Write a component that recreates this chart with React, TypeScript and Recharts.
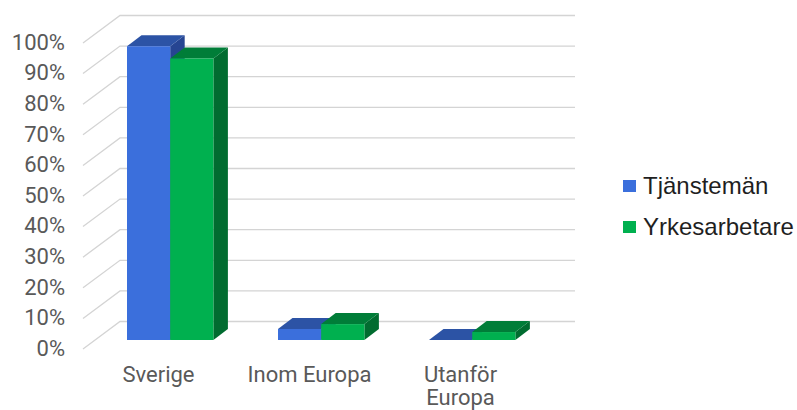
import { BarChart, Bar, XAxis, YAxis, CartesianGrid, Legend } from 'recharts';

const categories = ['Sverige', 'Inom Europa', 'Utanför Europa'];
const tjanstemanValues = [96, 3.6, 0];
const yrkesarbetareValues = [92, 5.2, 2.6];
const yTicks = [0, 10, 20, 30, 40, 50, 60, 70, 80, 90, 100];

const chartData = categories.map((name, i) => ({
  name,
  tjansteman: tjanstemanValues[i],
  yrkesarbetare: yrkesarbetareValues[i]
}));

const BLUE = { front: '#3b6fdc', top: '#2c53a5', side: '#264592' };
const GREEN = { front: '#00b04f', top: '#007d38', side: '#016c30' };

// floor depth of the 3D box, and how far the bars sit inside it
const WALL_DX = 37;
const WALL_DY = 27.5;
const WALL_END_EXTRA = 2;
const BAR_SHIFT_X = 12;
const BAR_SHIFT_Y = 9;
const BAR_DX = 14.5;
const BAR_DY = 11;

const MAX_LABEL_CHARS = 12;

const pts = (list: number[][]) => list.map(p => p.join(',')).join(' ');

const Box = ({ x, y, width, height, colors }: any) => {
  const left = x + BAR_SHIFT_X;
  const right = left + width;
  const top = y - BAR_SHIFT_Y;
  const bottom = top + height;
  return (
    <g>
      <polygon
        fill={colors.side}
        points={pts([[right, top], [right + BAR_DX, top - BAR_DY], [right + BAR_DX, bottom - BAR_DY], [right, bottom]])}
      />
      <polygon
        fill={colors.top}
        points={pts([[left, top], [left + BAR_DX, top - BAR_DY], [right + BAR_DX, top - BAR_DY], [right, top]])}
      />
      <rect x={left} y={top} width={width} height={height} fill={colors.front} />
    </g>
  );
};

// each gridline runs across the side wall, then along the back wall
const WallLine = ({ x1, y1, x2 }: any) => (
  <polyline
    fill="none"
    stroke="#d4d4d4"
    strokeWidth={1.3}
    points={pts([[x1, y1], [x1 + WALL_DX, y1 - WALL_DY], [x2 + WALL_DX + WALL_END_EXTRA, y1 - WALL_DY]])}
  />
);

const CategoryTick = ({ x, y, payload }: any) => {
  const label: string = payload.value;
  const lines = label.length > MAX_LABEL_CHARS ? label.split(' ') : [label];
  return (
    <text x={x} y={y + 25} textAnchor="middle" fontFamily="Roboto, sans-serif" fontSize={22} fill="#595959">
      {lines.map((line, i) => (
        <tspan key={line} x={x} dy={i === 0 ? 0 : 23}>
          {line}
        </tspan>
      ))}
    </text>
  );
};

const LegendList = () => {
  const rows = [
    { label: 'Tjänstemän', color: BLUE.front },
    { label: 'Yrkesarbetare', color: GREEN.front }
  ];
  return (
    <div>
      {rows.map(row => (
        <div key={row.label} style={{ display: 'flex', alignItems: 'center', height: 41 }}>
          <span style={{ width: 13, height: 12, background: row.color, marginRight: 7, flex: 'none' }} />
          <span style={{ fontFamily: '"Liberation Sans", sans-serif', fontSize: 24, color: '#1f1f1f', whiteSpace: 'nowrap' }}>
            {row.label}
          </span>
        </div>
      ))}
    </div>
  );
};

export default function App() {
  return (
    <div style={{ position: 'absolute', left: 0, top: 0, width: 797, height: 410, background: '#fff' }}>
      <BarChart
        width={797}
        height={410}
        data={chartData}
        barSize={43.2}
        barGap={0}
        margin={{ top: 43, right: 261, bottom: 0, left: 0 }}
      >
        <CartesianGrid vertical={false} horizontal={(props: any) => <WallLine key={props.key} {...props} />} />
        <XAxis
          dataKey="name"
          height={61}
          interval={0}
          axisLine={false}
          tickLine={false}
          tick={<CategoryTick />}
        />
        <YAxis
          width={83}
          domain={[0, 100]}
          ticks={yTicks}
          interval={0}
          axisLine={false}
          tickLine={false}
          tickMargin={12}
          tickFormatter={(v: number) => `${v}%`}
          tick={{ fontFamily: 'Roboto, sans-serif', fontSize: 22, fill: '#595959', dy: -1 }}
        />
        <Legend
          layout="vertical"
          align="center"
          verticalAlign="middle"
          wrapperStyle={{ left: 623, top: 165, width: 174 }}
          content={<LegendList />}
        />
        <Bar dataKey="tjansteman" name="Tjänstemän" fill={BLUE.front} isAnimationActive={false} shape={(p: any) => <Box {...p} colors={BLUE} />} />
        <Bar dataKey="yrkesarbetare" name="Yrkesarbetare" fill={GREEN.front} isAnimationActive={false} shape={(p: any) => <Box {...p} colors={GREEN} />} />
      </BarChart>
    </div>
  );
}
